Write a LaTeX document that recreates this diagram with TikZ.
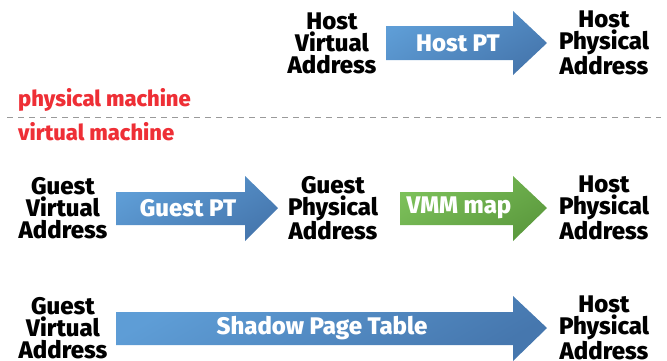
\documentclass[tikz,border=0pt]{standalone}
\usepackage{fontspec}
\setmainfont{Fira Sans}[BoldFont={Fira Sans ExtraBold}]
\begin{document}
\begin{tikzpicture}[x=1pt,y=-1pt,
  addr/.style={font=\fontsize{24}{22}\selectfont\bfseries, align=center, text=black, inner sep=0pt},
  lbl/.style={font=\fontsize{24}{22}\selectfont\bfseries, text=white, inner sep=0pt},
  note/.style={font=\fontsize{22}{20}\selectfont\bfseries, text=redlbl, anchor=west, inner sep=0pt},
  bluefill/.style={top color=bluetop, bottom color=bluebot, shading angle=30},
  greenfill/.style={top color=greentop, bottom color=greenbot, shading angle=30}
]
\definecolor{bluetop}{HTML}{5E9DD6}
\definecolor{bluebot}{HTML}{4677AE}
\definecolor{greentop}{HTML}{7CC05A}
\definecolor{greenbot}{HTML}{5C9A3E}
\definecolor{redlbl}{HTML}{EE2F36}
\definecolor{dashgray}{HTML}{9A9A9A}
\useasboundingbox (0,0) rectangle (667,360);
\clip (0,0) rectangle (667,360);

% --- host translation ---
\node[addr] (hva) at (332,43) {Host\\Virtual\\Address};
\node[addr] (hpa1) at (604,43) {Host\\Physical\\Address};
\shade[bluefill] (386,26) -- (513,26) -- (513,11) -- (547,43) -- (513,75) -- (513,60) -- (386,60) -- cycle;
\node[lbl] (hpt) at (458,43) {Host PT};

% --- machine boundary ---
\node[note] (pm) at (18,100) {physical machine};
\coordinate (dl) at (7,117);
\coordinate (dr) at (661,117);
\draw[dashgray, line width=1pt, dash pattern=on 6pt off 5pt] (dl) -- (dr);
\node[note] (vm) at (18,132) {virtual machine};

% --- guest translation via VMM ---
\node[addr] (gva1) at (63,208) {Guest\\Virtual\\Address};
\shade[bluefill] (116,192) -- (245,192) -- (245,176) -- (278,208) -- (245,241) -- (245,225) -- (116,225) -- cycle;
\node[lbl] (gpt) at (188,208) {Guest PT};
\node[addr] (gpa) at (333,208) {Guest\\Physical\\Address};
\shade[greenfill] (400,192) -- (513,192) -- (513,176) -- (547,208) -- (513,241) -- (513,225) -- (400,225) -- cycle;
\node[lbl] (vmm) at (459,208) {VMM map};
\node[addr] (hpa2) at (604,208) {Host\\Physical\\Address};

% --- shadow page table ---
\node[addr] (gva2) at (63,328) {Guest\\Virtual\\Address};
\shade[bluefill] (116,312) -- (513,312) -- (513,296) -- (547,328) -- (513,361) -- (513,345) -- (116,345) -- cycle;
\node[lbl] (spt) at (322,328) {Shadow Page Table};
\node[addr] (hpa3) at (604,328) {Host\\Physical\\Address};
\end{tikzpicture}
\end{document}
